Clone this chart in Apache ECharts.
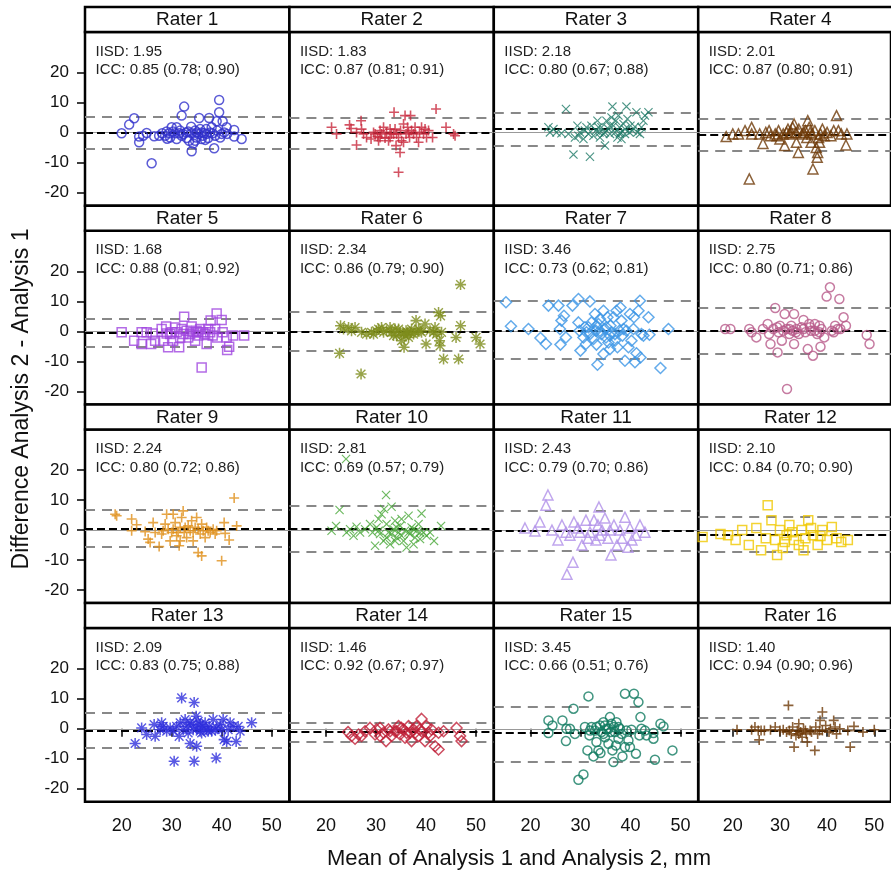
<!DOCTYPE html>
<html><head><meta charset="utf-8">
<script src="https://cdn.jsdelivr.net/npm/echarts@6/dist/echarts.min.js"></script>
<style>html,body{margin:0;padding:0;background:#fff}#c{width:891px;height:873px}</style>
</head><body><div id="c"></div>
<script>
// ---------- data ----------
const raterNames = ['Rater 1','Rater 2','Rater 3','Rater 4','Rater 5','Rater 6','Rater 7','Rater 8','Rater 9','Rater 10','Rater 11','Rater 12','Rater 13','Rater 14','Rater 15','Rater 16'];
const xTicks = [20, 30, 40, 50];
const yTicks = [-20, -10, 0, 10, 20];
const iisd = ['1.95','1.83','2.18','2.01','1.68','2.34','3.46','2.75','2.24','2.81','2.43','2.10','2.09','1.46','3.45','1.40'];
const icc = ['0.85 (0.78; 0.90)','0.87 (0.81; 0.91)','0.80 (0.67; 0.88)','0.87 (0.80; 0.91)','0.88 (0.81; 0.92)','0.86 (0.79; 0.90)','0.73 (0.62; 0.81)','0.80 (0.71; 0.86)','0.80 (0.72; 0.86)','0.69 (0.57; 0.79)','0.79 (0.70; 0.86)','0.84 (0.70; 0.90)','0.83 (0.75; 0.88)','0.92 (0.67; 0.97)','0.66 (0.51; 0.76)','0.94 (0.90; 0.96)'];
const meanDiff = [-0.1, -0.1, 1.4, -0.8, -0.5, -0.2, 0.3, 0.2, 0.6, 0.5, -0.3, -1.5, -0.6, -1.1, -1.4, -0.6];
const upperLoA = [5.3, 5.0, 6.7, 4.8, 4.2, 6.4, 10.1, 7.8, 6.9, 8.2, 6.4, 4.3, 5.3, 2.0, 7.4, 3.6];
const lowerLoA = [-5.4, -5.2, -4.3, -6.1, -5.0, -6.4, -9.1, -7.3, -5.6, -7.2, -7.0, -7.3, -6.3, -4.3, -10.9, -4.2];

const rater1 = [[20,-0.2],[21.5,2.7],[22.5,4.8],[23.5,-1.3],[23.5,-3.2],[24.3,-1],[25,-0.1],[26,-10.2],[26.5,-1.2],[27.5,-1],[28.1,-0.2],[28.7,-1],[29.1,-2],[29.5,-0.2],[30,1.8],[30.3,0.4],[31,1.8],[31,-2.1],[31.5,-0.2],[32,5.7],[32.5,8.7],[32,-1],[32.9,0.1],[33,-1.8],[33.5,-2.7],[33.9,2],[34,-0.2],[34,-6.2],[34.3,-3.6],[34.7,0.7],[34.9,-1.6],[35.3,-0.4],[35.5,4.9],[35.7,1.2],[36,-2.1],[36.5,-0.2],[36.9,1.2],[37.3,-1.8],[37.5,4.9],[37.7,0.1],[38,1.8],[38.5,-5.2],[38.7,-1],[39,3.8],[39.1,0.7],[39.5,10.9],[39.5,6.8],[39.7,-1.6],[40.2,3.8],[40.5,0.1],[41,1.8],[41.1,-0.4],[42.5,0.9],[42.5,-1.3],[44,-2.1],[30.7,-0.2],[31.7,0.7],[32.3,-0.4],[33.3,0.4],[35.1,0.1],[36.2,-1],[37,-0.4],[38.2,-0.2],[40,-0.4],[29,0.4],[29.7,-1.6],[34.7,-2.7],[36,0.1],[36.7,-2.4]];
const rater2 = [[21.1,1.8],[22.1,-0.4],[24.7,2.6],[25,1.4],[26.1,0.1],[26.1,-4.1],[27,4],[27.1,1.2],[27.5,-0.4],[28.1,-1.6],[29,-2.1],[29.8,-0.4],[30.3,-1.3],[30.5,-2.7],[30.8,0.7],[31.1,-0.4],[31.5,1.8],[31.8,-1.8],[32.1,0.1],[32.5,-2.7],[32.8,1.2],[33.1,-0.4],[33.6,6.8],[33.8,1.2],[34,-4.3],[34.1,-0.4],[34.5,-1.6],[34.5,-13.2],[34.8,-6.6],[34.9,0.7],[35.1,-2.7],[35.5,2.9],[35.8,5.7],[36,-0.4],[36.3,1.8],[36.7,-1.6],[36.9,5.7],[37.1,0.7],[37.5,-0.4],[37.8,1.8],[38.1,-1.6],[38.5,-3.2],[38.7,0.1],[39.1,1.8],[39.5,-0.4],[39.8,1.2],[40.1,-1.6],[40.5,0.7],[41.3,-1.6],[42,7.9],[44,1.8],[45.5,-0.4],[45.8,-1],[33.5,-0.4],[30.8,-1.6],[29.5,0.1],[36.5,0.1],[35.5,-3.2],[32.8,-1.6]];
const rater3 = [[23.6,1.8],[23.9,0.1],[24.6,1.2],[25.2,0.1],[26.2,-0.2],[27.1,7.9],[27.6,-0.4],[28.6,-7.3],[28.9,-1.6],[29.4,2.3],[29.9,0.1],[30.6,-2.1],[30.9,0.7],[31.2,1.8],[31.6,-0.4],[31.9,-8],[32.2,2.3],[32.6,-1],[33.1,0.7],[33.4,4],[33.8,0.1],[34.2,1.8],[34.6,-0.4],[34.9,-4.3],[35.2,4],[35.6,1.2],[35.9,-0.4],[36.2,5.1],[36.4,8.7],[36.6,2.3],[36.9,0.1],[37.1,4],[37.4,-1.6],[37.6,5.7],[37.8,1.8],[38,0.1],[38.2,-2.1],[38.6,2.9],[38.9,1.2],[39.2,8.7],[39.4,4.6],[39.8,0.1],[40,2.3],[40.4,0.7],[40.9,2],[41.2,6.8],[41.4,0.1],[41.9,-0.4],[42.2,1.8],[42.6,4],[42.9,5.7],[43.6,6.8],[33.6,1.8],[34.9,0.1],[35.9,2.3],[37.9,-0.4],[38.9,-0.4],[29.6,-1],[33.9,-1.6]];
const rater4 = [[18.6,-1.3],[20,-0.4],[21.2,-0.4],[22.6,0.7],[23.5,-15.4],[24,1.8],[24,-0.4],[25.7,-0.4],[26.4,-3.6],[27,0.1],[27.7,0.7],[28,-1],[29,-0.4],[29.7,0.7],[30,-2.1],[30.7,-0.4],[31,-4.3],[31.7,1.2],[32,-0.4],[32.7,1.8],[33,2.9],[33.4,0.1],[33.5,-3.2],[33.9,-6.6],[34,1.2],[34.7,-0.4],[35.4,0.7],[35.7,-1.6],[35.9,4],[36.2,1.8],[36.6,-3.2],[36.8,-0.4],[37,-12.1],[37.4,0.7],[37.7,-4.9],[37.9,-8.2],[38,-6.6],[38.2,-1.6],[38.6,-0.4],[39,1.2],[39.4,-1],[40,0.1],[40.8,-1],[41.4,0.7],[42,5.7],[42.4,0.7],[43,-0.4],[44,-4.1],[44.2,-0.4],[31.4,0.1],[35,0.1],[36.4,0.1],[32.4,0.1],[29.4,-1],[38.4,-3.2]];
const rater5 = [[20,-0.3],[22.5,-3.1],[24,-0.3],[24,-4.2],[25,-0.3],[25.9,-4.2],[26.2,-0.7],[26.7,-3.1],[28,0.8],[28.3,-3.1],[28.9,1.6],[29.3,-5.3],[29.7,-0.9],[30.3,-3.1],[30.7,1.3],[31,-0.3],[31.5,-5.3],[31.7,-2],[32.3,-0.9],[32.5,4.9],[33,0.2],[33.3,-2],[34,1.6],[34.3,-0.3],[34.7,-3.1],[35,0.2],[35.3,-1.4],[35.7,0.8],[36,-12],[36.3,-0.3],[37,-4.2],[37.3,0.8],[37.8,3.6],[38.2,-1.4],[38.7,0.8],[39,6],[39.1,-2],[40,3.8],[40.2,-0.3],[41,-2],[41.1,-6.2],[41.5,-5.1],[42.3,-1.4],[44.5,-1.4],[33.7,-0.9],[32,0.8],[36.7,-0.9],[35.3,-0.3],[30,-0.3],[29,-0.7],[37.7,-0.3]];
const rater6 = [[22.7,-7.3],[22.9,1.9],[23.5,0.8],[24.5,1.3],[25.1,0.2],[25.8,1.3],[27,-14.2],[27.1,-0.3],[28.1,-0.9],[29.1,-0.3],[30.1,0.2],[31.1,1.3],[31.5,-0.3],[32.8,1.3],[33.1,-0.3],[33.8,0.8],[34.1,-1.4],[34.8,-0.3],[35.1,-3.1],[35.6,-5.3],[36,0.2],[36.5,-2],[36.9,-0.3],[37.5,-0.9],[38,3.6],[38.5,0.8],[39.1,-0.3],[39.8,2.5],[40,-4.2],[40.8,0.2],[41.8,1.3],[42.1,-0.9],[42.5,6.3],[42.7,-3.1],[42.8,-4.8],[42.9,5.2],[43.1,-0.3],[43.5,-9.2],[46,-2],[46.5,-9.2],[46.9,15.6],[46.9,1.9],[50,-2],[50.8,-4.2],[32.1,0.2],[34.5,0.8],[35.5,-0.9],[36.3,-0.3],[37.1,0.8],[37.8,-0.3],[38.8,0.2],[41.5,-0.3],[29.5,-0.9],[30.5,0.8],[33.5,-1.4],[35.8,-1.4]];
const rater7 = [[15.1,9.7],[16.1,1.7],[19.6,0.8],[22,-2.2],[23.1,-4.2],[23.6,8.6],[25.6,8.6],[25.9,0.8],[26,-4.4],[26.2,3.6],[26.7,5.2],[27.1,-2],[28.4,8.6],[29.6,10.8],[29.6,3],[29.8,0.2],[30,-6.4],[30.6,-2],[31.1,-4.2],[31.6,1.4],[31.9,10],[31.9,-0.9],[32.2,3],[32.6,-2.5],[32.9,5.8],[33.1,0.2],[33.2,-4.4],[33.4,-11.1],[33.6,2.5],[33.9,4.1],[34.2,-0.9],[34.6,6.9],[34.6,-7.5],[34.9,0.8],[35.1,-2],[35.4,4.7],[35.6,-3.7],[35.9,-5.9],[36,1.9],[36.2,-0.3],[36.6,4.7],[36.9,-3.1],[37.2,6.9],[37.4,-5.3],[37.8,0.2],[38,8],[38.2,3.6],[38.4,-1.4],[38.9,-9.8],[39.2,0.2],[39.6,-5.3],[39.9,5.8],[40.2,-3.1],[40.6,0.8],[40.7,4.7],[40.9,-10.3],[41.2,-7.3],[41.6,6.9],[41.9,10.2],[42,-8.7],[42.2,-0.9],[42.6,-1.4],[43.6,4.7],[43.8,-1.1],[46,-12.2],[47.6,0.8],[30.9,1.4],[33.9,0.2],[35.2,1.4],[36.9,-0.9],[38.6,0.8],[31.2,-0.3],[35.9,-1.4],[33.2,1.9]];
const rater8 = [[18.4,0.8],[19.5,0.8],[23.5,0.8],[24,-0.3],[25,-2],[26.4,0.8],[27.4,2.5],[27.7,-0.9],[28,-4.2],[28.6,0.8],[29,7.8],[29.5,-7],[29.7,-0.3],[30,1.9],[30.4,-3.1],[31,5.8],[31.4,0.8],[31.5,-19.2],[32,-0.9],[32.4,1.9],[32.7,0.2],[33,5.8],[33,-4.2],[33.5,0.8],[34,-0.9],[34.6,1.4],[35,3.8],[35.4,-0.3],[35.9,-5.9],[36.2,2.5],[36.6,0.2],[37,-8.1],[37.4,2.5],[37.9,-0.9],[38.4,1.9],[38.6,-5.1],[38.8,0.8],[39.4,-2],[39.9,11.6],[40.6,14.7],[41,0.2],[41.4,-0.3],[41.7,1.9],[42.2,0.8],[42.6,10.8],[42.8,0.8],[43.5,4.7],[44,1.9],[48.4,-1.2],[49,-4.2],[30.7,0.2],[35,0.8],[33.4,-0.3],[36.4,1.4],[38.4,-0.3],[29.4,1.4],[32,0.8],[37.4,0.2]];
const rater9 = [[18.7,5.3],[19,4.8],[22,3.7],[23,1.8],[22,-0.2],[24.7,-0.5],[25.3,-3],[25.7,-4.1],[26.3,2.5],[26.7,-0.8],[27.5,-5.5],[28,-1.3],[28.7,2],[29,5.3],[29.3,0.3],[29.7,-3.6],[30,-0.8],[30.3,5.3],[30.7,2.5],[31,-1.9],[31.5,-5.2],[31.7,0.9],[32,4.2],[32.3,6.4],[32.5,-0.8],[33,-2.5],[33.3,1.4],[33.7,-0.2],[34,3.1],[34.3,-3.6],[34.7,0.9],[35,4.2],[35.3,-7.5],[35.7,-1.3],[36,-8.6],[36,2],[36.3,-0.2],[36.7,-2.5],[37,0.9],[37.7,-0.8],[38.3,0.3],[39,-0.2],[40,-10.2],[40.5,2.5],[40.7,-1.1],[41.5,-3.3],[42.5,10.7],[43,1.4],[30.3,0.3],[31.3,-0.8],[32.7,0.9],[34.3,-0.8],[35.3,0.3],[37.3,-0.2],[38.7,-1.3],[28.3,-0.2],[31.7,-3.6]];
const rater10 = [[24,23.7],[21.1,-0.2],[22,1.4],[22.7,6.7],[24.1,-0.8],[24.8,0.3],[25.5,-1.9],[26.1,1.1],[26.8,-0.8],[27.8,0.3],[28.8,2],[29.3,-0.8],[29.8,-5.2],[30.1,0.9],[30.5,3.7],[30.8,-1.3],[31.1,5.3],[31.5,-3.6],[31.6,7],[32,11.7],[32.1,2],[32.5,-0.8],[32.8,-4.7],[33.1,7.8],[33.5,0.3],[33.8,3.1],[34.1,-2.5],[34.5,-0.8],[34.8,1.4],[35.1,3.7],[35.5,-3.6],[35.8,-0.2],[36.1,-5.8],[36.5,4.8],[36.8,-1.3],[37.1,0.9],[37.5,-4.7],[37.8,-2.5],[38.1,-0.2],[38.5,2],[38.8,-3],[39.1,5.5],[39.5,-0.8],[40.1,-1.9],[40.8,-0.8],[41.6,-3.6],[43,1.4],[30.5,-0.2],[33.1,-1.3],[34.1,0.9],[36.5,-0.8],[37.5,0.3],[38.8,-0.8],[35.1,-1.9],[32.1,-2.5],[33.8,-3.6]];
const rater11 = [[18.9,0.7],[20.9,-0.3],[21.9,2.7],[23.5,11.7],[23.1,8.3],[24.3,0],[25.5,-3.3],[26.3,1.7],[27.3,-14.7],[28.5,-10.7],[27.9,-1.7],[29.5,0.7],[30.3,-5],[31.1,3.3],[31.9,-0.7],[32.7,3.3],[33.1,-3.3],[33.7,7.7],[34.3,0],[34.9,4],[35.5,-2.7],[36.1,-8.3],[36.7,1.7],[37.3,-5],[37.9,0],[38.9,4.3],[39.5,-5.7],[39.9,0.7],[41.1,-1.7],[41.9,1.7],[42.9,-0.7],[29.9,-0.7],[31.5,-2.7],[33.9,-1.7],[35.9,0],[33.5,1.7],[28.7,2.7],[27.1,-0.7],[38.3,-2.7],[40.3,-3.3]];
const rater12 = [[13.6,-2.3],[17.4,-1.3],[19,-1.7],[20.6,-3.3],[22,0],[23.4,-5],[25,0.7],[26,-6.7],[27,-2.7],[27.4,8.3],[28.2,3.3],[29,-3.3],[30,0],[30.6,-6],[31.4,-1.7],[32,1.7],[33,-3.3],[34,-5],[34.6,0],[35.4,-2.7],[36,3.3],[37,-1.7],[38,-5],[39,0],[40,-3.3],[41,1],[42,-2.7],[43,-4],[44.4,-3.3],[29.4,-8.3],[32.6,-0.7],[36.6,0.7],[38.6,-2],[31,-4],[35,-6.7]];
const rater13 = [[22.7,-4.9],[24,0.3],[25,-1.9],[26.5,1.4],[26.7,-2.5],[27.7,-0.3],[28.3,0.8],[29,-0.8],[29.7,0.3],[30.5,-10.8],[31,0.8],[31.5,-2.5],[32,10.3],[32.3,-0.3],[32.7,3.1],[33,0.8],[33.3,-1.4],[33.7,-4.9],[34,1.4],[34.5,8.8],[34.5,-10.8],[34.9,4.2],[35,-5.8],[35.1,0.3],[35.3,2.5],[35.7,-0.8],[36.2,0.8],[36.7,2],[37,-0.3],[37.5,0.8],[38,-0.8],[38.3,3.1],[38.9,-9.7],[39,0.3],[39.7,1.4],[40.3,3.1],[40.5,-3.6],[41,-4.2],[41.3,-0.3],[41.7,2],[42.3,0.8],[42.9,-4.2],[43.3,0.8],[43.7,-0.8],[46,2],[28,2],[30.3,-0.8],[31.7,2],[34.3,-0.3],[36,-1.4],[37.3,-0.8],[38.7,-0.3],[40,-0.3],[33.7,2],[35.7,1.4]];
const rater14 = [[24.4,-1.1],[25.1,-2.4],[25.8,-3.3],[26.5,-1.9],[27.1,-2.4],[27.8,-0.8],[28.8,0.3],[29.8,-1.9],[30.1,-0.2],[30.8,0.3],[31.5,-1.3],[32,-4.1],[32.5,-0.2],[33.1,-2.4],[33.8,-0.8],[34.5,0.9],[34.8,-1.9],[35.5,-0.2],[35.8,-3],[36.5,0.9],[36.8,-1.3],[37.1,-4.1],[37.5,-0.2],[38.1,0.9],[38.5,-2.4],[39.1,3.3],[39.1,-0.8],[39.8,-4.1],[40.1,0.9],[40.5,-1.3],[41.1,-0.2],[41.8,-5.8],[42.5,-6.9],[42.5,-1.3],[43.5,-0.8],[46.1,0.3],[46.8,-2.4],[47.1,-4.1],[34.1,-0.8],[36.1,-1.3],[37.8,-1.3],[38.8,-0.2],[40.8,-2.4],[30.8,-2.4],[35.1,0.3],[32.8,-0.8]];
const rater15 = [[23.6,2.8],[23.6,-1.4],[24.4,1.1],[26.4,2.8],[27.1,-4.1],[27.2,0],[27.9,0],[28.6,6.7],[28.9,-1.7],[29.6,-17],[30.6,-15.2],[30.9,0.6],[31.4,-7.2],[31.6,10.8],[31.8,-2.2],[32.2,0.6],[32.6,-9.2],[32.9,-0.6],[33.2,-4.4],[33.6,-7.2],[33.9,1.1],[34,-8.1],[34.2,-1.1],[34.6,2.2],[34.9,-2.8],[35.2,0],[35.6,-5],[35.9,3.9],[36,-1.1],[36.4,-7.2],[36.6,-11.1],[36.7,0.6],[37.1,-5.6],[37.2,2.2],[37.6,-3.3],[37.9,0],[38.2,-1.7],[38.4,-9.2],[38.9,11.7],[38.9,-6.1],[39.2,-0.6],[39.6,-3.9],[39.9,-6.1],[40.2,-0.3],[40.7,11.7],[41.1,-8.3],[41.6,8.9],[41.8,-2.2],[42,3.9],[42.2,0],[42.9,-0.6],[43.2,-2.2],[44.6,-1.4],[44.6,-3.3],[44.9,-10.3],[46,1.7],[46.6,0.8],[48.4,-7.2],[33.2,0.6],[34.9,1.1],[36.2,1.7],[36.9,-1.1],[34.6,-1.7],[31.9,-0.6],[35.6,0],[37.6,0.6]];
const rater16 = [[20.9,-0.3],[24,-0.3],[24.7,0.6],[25.4,-0.6],[25.6,-3.7],[26,-0.6],[26.7,-0.6],[28,-0.3],[29,0.6],[30,-0.6],[30.7,-0.3],[31.4,-1.1],[31.8,7.8],[32,-0.6],[32.7,0.6],[33,-6.1],[33.4,-2.2],[33.7,-0.6],[34,1.7],[34.4,-1.1],[34.7,-2.8],[35,0],[35.6,-1.7],[35.8,-4.4],[36.4,-0.6],[37.4,-7.2],[37.6,0.6],[38,-1.7],[38.5,2.8],[39,5.6],[39,-0.6],[39.7,1.1],[40.7,0],[41.4,2.8],[41.7,0.6],[42,-1.7],[42.7,0],[44.4,-0.6],[44.9,-6.1],[45.7,0.8],[47.6,-1.1],[50,-0.3],[32.4,-1.7],[34,-1.7],[35.4,-0.6],[36.7,-1.1],[38.4,-0.6],[40.4,-1.1]];
const raterData = [rater1,rater2,rater3,rater4,rater5,rater6,rater7,rater8,rater9,rater10,rater11,rater12,rater13,rater14,rater15,rater16];

// ---------- styling / layout ----------
const FONT = "'Liberation Sans', Arial, Helvetica, sans-serif";
const PLUS = 'path://M4.2,0H5.8V10H4.2ZM0,4.2H10V5.8H0Z';
const XS = 'path://M0.9,0L5,4.1L9.1,0L10,0.9L5.9,5L10,9.1L9.1,10L5,5.9L0.9,10L0,9.1L4.1,5L0,0.9Z';
const AST = 'path://M4.3,0H5.7V10H4.3ZM0,4.3H10V5.7H0ZM1.5,0.6L5,4.1L8.5,0.6L9.4,1.5L5.9,5L9.4,8.5L8.5,9.4L5,5.9L1.5,9.4L0.6,8.5L4.1,5L0.6,1.5Z';
const markers = [
  {sym:'circle', size:9, open:true, color:'#3232cc'},
  {sym:PLUS, size:10, open:false, color:'#c8283c'},
  {sym:XS, size:9, open:false, color:'#1f7a68'},
  {sym:'triangle', size:10, open:true, color:'#6e3a08'},
  {sym:'rect', size:9, open:true, color:'#a046e0'},
  {sym:AST, size:11, open:false, color:'#7d8c1c'},
  {sym:'diamond', size:11, open:true, color:'#3c96e6'},
  {sym:'circle', size:9, open:true, color:'#b85a8a'},
  {sym:PLUS, size:10, open:false, color:'#e0901a'},
  {sym:XS, size:9, open:false, color:'#48a838'},
  {sym:'triangle', size:10, open:true, color:'#b090e8'},
  {sym:'rect', size:9, open:true, color:'#f0c800'},
  {sym:AST, size:11, open:false, color:'#2e2edc'},
  {sym:'diamond', size:11, open:true, color:'#c02038'},
  {sym:'circle', size:9, open:true, color:'#107a60'},
  {sym:PLUS, size:10, open:false, color:'#6e3a08'}
];
const L0 = 85, CW = 204.4, T0 = 7, RH = 198.7, SH = 25, PH = 173.7;
const X_MIN = 12.67, X_MAX = 12.67 + CW / 5;
const Y_MAX = 33.57, Y_MIN = Y_MAX - PH / 3;

const grids = [], xAxes = [], yAxes = [], series = [], graphics = [];
for (let i = 0; i < 16; i++) {
  const r = Math.floor(i / 4), c = i % 4;
  const left = L0 + c * CW, stripTop = T0 + r * RH, top = stripTop + SH;
  grids.push({left: left, top: top, width: CW, height: PH, show: true, borderColor: '#000', borderWidth: 2.5, backgroundColor: 'transparent', containLabel: false});
  xAxes.push({
    type: 'value', gridIndex: i, min: X_MIN, max: X_MAX,
    axisLine: {show: false}, splitLine: {show: false},
    axisTick: {show: r === 3, length: 8, lineStyle: {color: '#000', width: 1.5}, customValues: xTicks},
    axisLabel: {show: r === 3, customValues: xTicks, fontSize: 18, fontFamily: FONT, color: '#111', margin: 15}
  });
  yAxes.push({
    type: 'value', gridIndex: i, min: Y_MIN, max: Y_MAX,
    axisLine: {show: false}, splitLine: {show: false},
    axisTick: {show: c === 0, length: 8, lineStyle: {color: '#000', width: 1.5}, customValues: yTicks},
    axisLabel: {show: c === 0, customValues: yTicks, fontSize: 17, fontFamily: FONT, color: '#111', margin: 16}
  });
  const m = markers[i];
  series.push({
    type: 'scatter', xAxisIndex: i, yAxisIndex: i, data: raterData[i],
    symbol: m.sym, symbolSize: m.size, z: 3,
    itemStyle: m.open ? {color: 'rgba(0,0,0,0)', borderColor: m.color, borderWidth: 1.5} : {color: m.color},
    markLine: {
      silent: true, symbol: ['none', 'none'], label: {show: false}, z: 2,
      data: [
        {yAxis: 0, lineStyle: {color: '#999', type: 'solid', width: 1}},
        {yAxis: upperLoA[i], lineStyle: {color: '#888', type: [10, 7], width: 2}},
        {yAxis: lowerLoA[i], lineStyle: {color: '#888', type: [10, 7], width: 2}},
        {yAxis: meanDiff[i], lineStyle: {color: '#000', type: [8, 4], width: 1.8}}
      ]
    }
  });
  graphics.push({type: 'rect', shape: {x: left, y: stripTop, width: CW, height: SH}, style: {fill: '#fff', stroke: '#000', lineWidth: 2.5}, z: 10});
  graphics.push({type: 'text', x: left + CW / 2, y: stripTop + SH / 2 + 0.5, z: 11,
    style: {text: raterNames[i], fontSize: 19, fontFamily: FONT, fill: '#111', align: 'center', verticalAlign: 'middle', textAlign: 'center', textVerticalAlign: 'middle'}});
  graphics.push({type: 'text', x: left + 10.5, y: top + 19.5, z: 11,
    style: {text: 'IISD: ' + iisd[i], fontSize: 15, fontFamily: FONT, fill: '#222', align: 'left', verticalAlign: 'middle', textAlign: 'left', textVerticalAlign: 'middle'}});
  graphics.push({type: 'text', x: left + 10.5, y: top + 38, z: 11,
    style: {text: 'ICC: ' + icc[i], fontSize: 15, fontFamily: FONT, fill: '#222', align: 'left', verticalAlign: 'middle', textAlign: 'left', textVerticalAlign: 'middle'}});
}
graphics.push({type: 'text', x: 519, y: 859, z: 11,
  style: {text: 'Mean of Analysis 1 and Analysis 2, mm', fontSize: 22, fontFamily: FONT, fill: '#111', align: 'center', verticalAlign: 'middle', textAlign: 'center', textVerticalAlign: 'middle'}});
graphics.push({type: 'text', x: 22, y: 399, rotation: Math.PI / 2, z: 11,
  style: {text: 'Difference Analysis 2 - Analysis 1', fontSize: 23, fontFamily: FONT, fill: '#111', align: 'center', verticalAlign: 'middle', textAlign: 'center', textVerticalAlign: 'middle'}});

const chart = echarts.init(document.getElementById('c'), null, {renderer: 'canvas'});
chart.setOption({
  animation: false, backgroundColor: '#fff',
  grid: grids, xAxis: xAxes, yAxis: yAxes, series: series, graphic: graphics
});
</script></body></html>
